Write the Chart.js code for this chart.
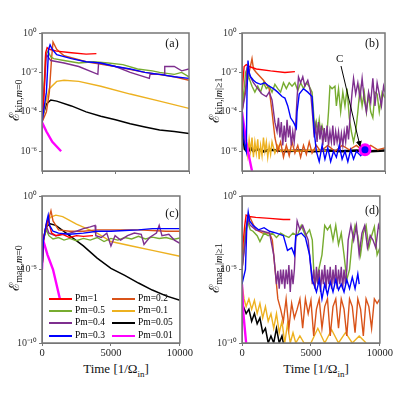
<!DOCTYPE html>
<html><head><meta charset="utf-8">
<script src="https://cdn.jsdelivr.net/npm/chart.js@4"></script>
<style>
body{margin:0;width:400px;height:400px;background:#fff;position:relative;overflow:hidden;font-family:"Liberation Serif",serif}
canvas{position:absolute}
.t{position:absolute;font-family:"Liberation Serif",serif;color:#111;white-space:nowrap}
.yt{transform:translate(-50%,-50%) rotate(-90deg);font-size:13px}
.yt i{font-style:normal;font-size:14px}
.yt sub{font-size:10px}
.xt{transform:translate(-50%,-50%);font-size:13px}
.pl{font-size:12px;transform:translate(-50%,-50%)}
.lg{position:absolute;font-size:9.5px;font-family:"Liberation Serif",serif}
.ln{position:absolute;height:2px}
</style></head><body>
<canvas id="ca" width="192" height="154" style="left:2px;top:25px"></canvas>
<canvas id="cb" width="191" height="154" style="left:202px;top:25px"></canvas>
<canvas id="cc" width="192" height="169" style="left:2px;top:188px"></canvas>
<canvas id="cd" width="192" height="169" style="left:202px;top:188px"></canvas>
<div id="ov"></div>
<script>
const labels = ["Pm=1","Pm=0.2","Pm=0.5","Pm=0.1","Pm=0.4","Pm=0.05","Pm=0.3","Pm=0.01"];
const colors = ["#ff0000","#d95319","#77ac30","#edb120","#7e2f8e","#000000","#0000ff","#ff00ff"];
const xTicks = [0,5000,10000];
const yTicksTop = [1,1e-2,1e-4,1e-6];
const yTicksBot = [1,1e-5,1e-10];

// panel (a): kinetic m=0
const a_pm1=[[0,3e-5],[150,1e-3],[250,0.1],[350,0.18],[500,0.15],[1000,0.12],[2000,0.1],[3000,0.085],[3700,0.09]];
const a_pm02=[[0,3e-5],[300,1e-4],[500,1e-3],[650,0.05],[750,0.35],[1000,0.15],[1500,0.07],[3000,0.035],[5000,0.02],[7000,0.01],[9000,0.006],[10000,0.004]];
const a_pm05=[[0,3e-5],[250,0.08],[400,0.12],[600,0.06],[800,0.05],[1500,0.04],[2500,0.03],[3500,0.035],[4500,0.03],[5500,0.025],[6500,0.015],[7500,0.012],[8000,0.01],[9000,0.008],[9500,0.01],[10000,0.006]];
const a_pm01=[[0,3e-5],[200,2e-4],[500,1.5e-3],[1000,3.5e-3],[1500,4e-3],[2500,3.5e-3],[4000,2e-3],[6000,8e-4],[8000,3.5e-4],[10000,1.5e-4]];
const a_pm04=[[0,3e-5],[300,0.08],[600,0.04],[1500,0.03],[2500,0.02],[3800,0.008],[3850,0.03],[5000,0.02],[6000,0.01],[7300,0.005],[7350,0.008],[8300,0.008],[8350,0.02],[9000,0.02],[9500,0.012],[10000,0.015]];
const a_pm005=[[0,3e-5],[100,8e-5],[300,2.5e-4],[600,4e-4],[1000,3.5e-4],[2000,2e-4],[3000,1e-4],[4000,6e-5],[5000,4e-5],[6000,2.5e-5],[7000,1.7e-5],[8000,1.2e-5],[9000,1e-5],[10000,8e-6]];
const a_pm03=[[0,3e-5],[300,1e-3],[450,0.15],[550,0.25],[700,0.15],[1000,0.08],[2000,0.05],[3000,0.035],[4000,0.03],[5000,0.02],[6000,0.015],[7000,0.01],[8000,0.008],[9000,0.006],[10000,0.005]];
const a_pm001=[[0,3e-5],[300,1e-5],[700,3e-6],[1300,1e-6]];

// panel (b): kinetic |m|>=1
const b_pm1=[[0,1e-3],[150,0.02],[300,0.025],[500,0.02],[1000,0.015],[2000,0.012],[3000,0.01],[3700,0.011]];
const b_pm02=[[0,1e-4],[200,1e-3],[500,1e-2],[700,5e-2],[800,1.5e-2],[1000,1e-2],[1500,4e-3],[1900,1.5e-3],[2100,1e-4],[2300,5e-6],[2500,1e-6],[2700,3e-6],[2900,5e-7],[3100,2e-6],[3300,6e-7],[3500,3e-6],[3700,8e-7],[3900,2e-6],[4100,5e-7],[4300,2e-6],[4500,7e-7],[4700,3e-6],[4900,8e-7],[5200,2e-6],[5500,1e-6],[6000,2e-6],[6500,1e-6],[7000,2e-6],[7500,1.2e-6],[8000,2e-6],[8500,1e-6],[9000,2e-6],[9500,1.2e-6],[10000,1.5e-6]];
const b_pm05=[[0,1e-4],[250,1e-2],[350,1.5e-2],[500,5e-3],[700,2e-3],[900,1e-3],[1100,2e-3],[1300,1e-3],[1500,3e-3],[1700,1.5e-3],[1900,2e-3],[2100,1e-3],[2300,2.5e-3],[2500,1.5e-3],[2700,1e-3],[2900,3e-3],[3100,1.5e-3],[3300,3e-3],[3500,2e-3],[3700,3e-3],[3900,1.2e-3],[4100,3e-3],[4300,1.5e-3],[4500,3e-3],[4700,2e-3],[4900,1e-3],[5000,1e-4],[5100,1e-5],[5200,3e-5],[5300,1e-5],[5400,4e-5],[5500,8e-6],[5600,2e-5],[5800,5e-6],[5950,1e-5],[6050,1e-4],[6150,2e-3],[6300,1.5e-3],[6500,2e-3],[6600,2e-4],[6750,1.5e-3],[6900,1e-4],[7050,1e-3],[7200,2e-4],[7350,1.5e-3],[7500,5e-5],[7650,1e-5],[7800,3e-6],[7950,1e-5],[8100,1e-4],[8250,1.5e-3],[8400,2e-4],[8550,1e-3],[8700,1e-4],[8850,8e-4],[9000,1e-4],[9150,5e-5],[9300,1e-3],[9450,8e-4],[9600,1e-4],[9800,1e-3],[10000,5e-4]];
const b_pm01=[[0,1e-4],[150,5e-6],[300,2e-6],[400,6e-7],[500,4e-6],[600,1e-6],[700,5e-6],[800,5e-7],[900,3e-6],[1000,8e-7],[1100,4e-6],[1200,4e-7],[1300,2e-6],[1400,6e-7],[1500,5e-6],[1600,1e-6],[1700,3e-6],[1800,5e-7],[1900,2e-6],[2000,7e-7],[2100,3e-6],[2300,8e-7],[2500,2e-6],[2700,1e-6],[3000,1.2e-6],[4000,1e-6],[5000,1.2e-6],[6000,1e-6]];
const b_pm04=[[0,1e-4],[250,1e-3],[350,1.5e-2],[500,8e-3],[800,3e-3],[1100,1.5e-3],[1400,8e-4],[1700,6e-4],[1900,1e-3],[2100,4e-4],[2300,3e-5],[2450,1e-5],[2550,5e-5],[2650,5e-6],[2750,3e-5],[2850,2e-6],[2950,2e-5],[3050,3e-6],[3150,4e-5],[3250,5e-6],[3350,2e-5],[3450,2e-6],[3550,1e-5],[3650,3e-6],[3750,2e-5],[3850,5e-4],[3950,6e-3],[4100,3e-3],[4250,6e-3],[4400,2e-3],[4600,4e-3],[4800,1e-3],[4950,5e-5],[5050,5e-6],[5150,2e-5],[5250,3e-6],[5350,3e-5],[5450,4e-6],[5550,2e-5],[5650,2e-6],[5750,1.5e-5],[5850,3e-6],[5950,2e-5],[6050,2e-6],[6150,1e-5],[6250,3e-6],[6350,2e-5],[6450,2e-6],[6550,1e-5],[6650,3e-6],[6750,1e-5],[6850,2e-6],[6950,8e-6],[7050,2e-6],[7150,1e-5],[7250,3e-6],[7350,2e-5],[7450,4e-6],[7550,5e-5],[7700,1e-3],[7800,5e-3],[7950,8e-4],[8100,3e-3],[8250,5e-4],[8400,5e-3],[8550,4e-4],[8700,1e-4],[8850,1e-3],[9000,3e-4],[9150,5e-3],[9300,2e-4],[9450,3e-3],[9600,8e-4],[9750,2e-4],[9900,2e-3],[10000,1e-3]];
const b_pm005=[[0,3e-5],[100,5e-6],[200,1.3e-6],[400,9e-7],[600,1.5e-6],[800,1e-6],[1000,1.3e-6],[1500,1e-6],[2000,1.2e-6],[3000,1e-6],[4000,1.1e-6],[5000,1e-6],[6000,1.1e-6],[7000,1e-6],[8000,1.1e-6],[9000,1e-6],[10000,1.1e-6]];
const b_pm03=[[0,1e-4],[150,3e-6],[300,1e-6],[350,1e-3],[420,4e-2],[500,1e-2],[600,6e-3],[800,4e-3],[1000,3e-3],[1300,2.5e-3],[1600,3e-3],[1900,2e-3],[2200,1.5e-3],[2500,1e-3],[2800,6e-4],[3000,5e-4],[3200,2e-4],[3400,5e-5],[3600,3e-5],[3800,1.5e-5],[3850,1e-4],[4000,8e-4],[4300,1.5e-3],[4600,1e-3],[4900,6e-4],[5050,1e-5],[5200,1e-6],[5400,3e-7],[5600,2e-6],[5800,4e-7],[6000,1.5e-6],[6200,3e-7],[6400,1e-6],[6600,5e-7],[6800,2e-6],[7000,4e-7],[7200,1e-6],[7400,3e-7],[7600,1.2e-6],[7800,4e-7],[8000,1e-6],[8300,6e-7],[8600,1.2e-6]];
const b_pm001=[[0,1e-4],[300,3e-6],[500,5e-7],[700,1e-7]];
const b_markC=[[8600,1.2e-6]];

// panel (c): magnetic m=0
const c_pm1=[[0,1e-5],[100,1e-3],[300,1e-2],[450,3e-2],[550,1e-2],[700,3e-3],[1000,2e-3],[1500,2.5e-3],[2000,1.5e-3],[2500,2e-3],[3000,1.8e-3],[3700,2e-3]];
const c_pm02=[[0,1e-5],[100,1e-3],[500,3e-2],[650,1e-1],[800,2e-2],[1200,5e-3],[2000,4e-3],[3000,4e-3],[4000,5e-3],[5000,5e-3],[6000,5e-3],[7000,5e-3],[8000,4.5e-3],[9000,4e-3],[10000,4e-3]];
const c_pm05=[[0,1e-5],[100,1e-3],[300,5e-3],[500,2e-3],[800,1.2e-3],[1200,1.5e-3],[1600,1e-3],[2000,1.3e-3],[2500,9e-4],[3000,1.3e-3],[3500,1e-3],[4000,1.5e-3],[4500,8e-4],[5000,1.3e-3],[5500,1e-3],[6000,1.5e-3],[6500,1.2e-3],[7000,1.8e-3],[7500,1.2e-3],[8000,1.6e-3],[8500,1.3e-3],[9000,1.5e-3],[9500,1.1e-3],[10000,1.4e-3]];
const c_pm01=[[0,1e-5],[100,1e-3],[300,1e-2],[600,3.5e-2],[1000,5e-2],[1500,4e-2],[2500,1.2e-2],[4000,3e-3],[5000,8e-4],[6500,4e-4],[8000,2e-4],[10000,8e-5]];
const c_pm04=[[0,1e-5],[100,1e-3],[300,1e-2],[500,3e-3],[1000,2e-3],[1500,2.5e-3],[2000,3e-3],[2500,4e-3],[3000,6e-3],[3500,8e-3],[3850,1e-2],[3900,2e-3],[4300,1.5e-3],[4700,3e-3],[5000,4e-4],[5300,2e-3],[5700,1e-3],[6200,2e-3],[6700,3e-3],[7200,2.5e-3],[7400,5e-4],[7800,1.5e-3],[8300,3e-3],[8500,1e-2],[8700,2e-3],[9200,2.5e-3],[9600,1e-3],[10000,6e-4]];
const c_pm005=[[0,1e-5],[100,1e-3],[300,8e-3],[600,1.3e-2],[1000,1e-2],[2000,2e-3],[3000,4e-4],[4000,6e-5],[5000,1.2e-5],[6000,4e-6],[7000,1.2e-6],[8000,4e-7],[9000,1.6e-7],[10000,8e-8]];
const c_pm03=[[0,1e-5],[100,1e-3],[350,2e-2],[450,5e-2],[550,1e-2],[800,4e-3],[1200,3e-3],[2000,2.5e-3],[3000,3e-3],[4000,4e-3],[5000,4e-3],[6000,4.5e-3],[7000,5e-3],[8000,6e-3],[9000,6e-3],[10000,6e-3]];
const c_pm001=[[0,1e-5],[80,1e-3],[400,1e-4],[800,1e-5],[1300,1e-7]];

// panel (d): magnetic |m|>=1
const d_pm1=[[0,1e-4],[200,1e-2],[300,5e-2],[500,4e-2],[1000,3.5e-2],[2000,3e-2],[3000,2.5e-2],[3500,2.5e-2]];
const d_pm02=[[0,1e-5],[300,5e-3],[500,5e-2],[700,2e-2],[1000,5e-3],[1500,3e-3],[2000,3e-3],[2200,1e-3],[2400,1e-5],[2600,1e-7],[2800,2e-8],[3000,3e-9],[3200,1e-7],[3400,1e-9],[3600,5e-8],[3800,5e-9],[4000,2e-8],[4200,1e-7],[4400,1e-9],[4600,1e-7],[4800,1e-8],[5000,8e-8],[5200,3e-10],[5400,2e-8],[5600,1e-7],[5800,1e-9],[6000,3e-8],[6200,1e-7],[6400,3e-10],[6600,3e-8],[6800,1e-7],[7000,1e-9],[7200,1e-7],[7400,2e-8],[7600,3e-10],[7800,1e-7],[8000,3e-8],[8200,5e-10],[8400,1e-7],[8600,2e-8],[8800,3e-10],[9000,1e-7],[9200,3e-8],[9400,1e-9],[9600,1e-7],[9800,5e-8],[10000,1e-7]];
const d_pm05=[[0,1e-5],[250,5e-3],[400,2e-2],[600,5e-3],[800,4e-3],[1100,2e-3],[1300,8e-4],[1600,3e-3],[1900,2e-3],[2200,3e-3],[2500,1.5e-3],[2800,3e-3],[3100,2e-3],[3400,1.5e-3],[3700,3e-3],[4000,2e-3],[4300,1e-2],[4600,2e-3],[4900,5e-3],[5100,1e-3],[5200,1e-5],[5300,1e-6],[5500,5e-6],[5800,1e-4],[6000,1e-2],[6200,5e-3],[6400,1e-2],[6600,1e-3],[6800,1e-2],[7000,5e-4],[7200,3e-3],[7400,1e-4],[7600,2e-6],[7800,1e-5],[8000,1e-3],[8200,1e-2],[8400,2e-3],[8600,1e-4],[8800,3e-3],[9000,1e-2],[9200,3e-4],[9400,2e-3],[9600,8e-3],[9800,1e-4],[10000,3e-4]];
const d_pm01=[[0,1e-6],[150,1e-7],[300,3e-8],[500,1e-7],[700,2e-8],[900,8e-8],[1100,1e-8],[1300,5e-8],[1500,5e-9],[1700,3e-8],[1900,3e-9],[2100,1e-8],[2300,1e-9],[2500,1e-8],[2700,5e-10],[2900,3e-9],[3100,1e-10],[3300,2e-9],[3500,1e-10],[3700,5e-10],[3900,1e-10],[4200,3e-10],[4500,1e-10],[5000,1e-10],[5500,1e-9],[6000,1e-10],[6500,8e-10],[7000,1e-10],[7500,5e-10],[8000,1e-10],[8500,3e-10],[9000,1e-10]];
const d_pm04=[[0,1e-5],[250,1e-3],[400,3e-2],[600,1e-2],[1000,5e-3],[1500,4e-3],[2000,3e-3],[2300,1e-4],[2400,1e-5],[2500,1e-6],[2600,8e-6],[2700,5e-7],[2800,1e-5],[2900,1e-6],[3000,1e-5],[3100,5e-7],[3200,1e-5],[3300,1e-6],[3400,2e-5],[3500,3e-7],[3600,1e-5],[3700,1e-6],[3800,1e-5],[3900,1e-3],[4000,2e-2],[4200,5e-3],[4400,1e-2],[4600,3e-3],[4800,1e-3],[5000,1e-5],[5100,1e-6],[5200,1e-5],[5300,5e-7],[5400,1.5e-5],[5500,1e-6],[5600,1e-5],[5700,3e-7],[5800,1e-5],[5900,1e-6],[6000,2e-5],[6100,5e-7],[6200,1e-5],[6300,1e-6],[6400,1.5e-5],[6500,5e-7],[6600,1e-5],[6700,1e-6],[6800,2e-5],[6900,5e-7],[7000,1e-5],[7100,1e-6],[7200,1.5e-5],[7300,5e-7],[7400,1e-5],[7500,1e-6],[7600,1e-5],[7700,1e-3],[7900,1e-2],[8100,1e-3],[8300,1e-2],[8500,1e-4],[8700,3e-3],[8900,1e-2],[9100,3e-4],[9300,2e-3],[9500,1e-3],[9700,3e-4],[9900,1e-2],[10000,5e-3]];
const d_pm005=[[0,1e-7],[100,3e-8],[300,1e-8],[500,2e-8],[700,3e-9],[900,1e-8],[1100,2e-9],[1300,5e-9],[1500,5e-10],[1700,1e-9],[1900,1e-10],[2100,3e-10],[2300,1e-10],[2500,1e-9],[2700,1e-10],[2900,3e-10],[3000,1e-10]];
const d_pm03=[[0,1e-6],[250,1e-5],[350,1e-2],[450,8e-2],[550,2e-2],[800,1e-2],[1200,5e-3],[1600,7e-3],[2000,4e-3],[2500,3e-3],[3000,2e-3],[3300,2e-4],[3600,3e-4],[3800,1e-4],[3900,2e-3],[4300,3e-3],[4600,1.5e-3],[4900,1e-4],[5100,2e-6],[5400,3e-7],[5600,2e-6],[5800,1e-7],[6000,1e-6],[6200,2e-7],[6400,1.5e-6],[6600,3e-7],[6800,2e-6],[7000,4e-7],[7200,1e-6],[7400,3e-7],[7600,2e-6],[7800,5e-7],[8000,3e-6],[8200,5e-7],[8400,5e-6],[8500,1e-6]];
const d_pm001=[[0,1e-6],[100,1e-8],[300,1e-10]];

const sup={'0':'⁰','1':'¹','2':'²','3':'³','4':'⁴','5':'⁵','6':'⁶','7':'⁷','8':'⁸','9':'⁹','-':'⁻'};
function fmt(v){const e=Math.round(Math.log10(v));return '10'+String(e).split('').map(c=>sup[c]).join('');}

const frame={id:'frame',afterDraw(c){const a=c.chartArea,x=c.ctx;x.save();x.strokeStyle='#777';x.lineWidth=1.5;x.strokeRect(a.left,a.top,a.right-a.left,a.bottom-a.top);x.restore();}};

function make(id,series,ymin,yticks,showX,thickBlack,extra){
  const ds=series.map((s,i)=>({data:s.map(p=>({x:p[0],y:p[1]})),borderColor:colors[i],borderWidth:i==7?2.4:(i==5?(thickBlack?2.6:1.5):1.4),pointRadius:0,tension:0,order:[1,4,3,6,2,7,0,5][i]}));
  if(extra) ds.push(extra);
  new Chart(document.getElementById(id),{type:'line',data:{datasets:ds},plugins:[frame],
    options:{responsive:false,animation:false,events:[],
      layout:{padding:{top:5,right:5,left:0,bottom:0}},
      plugins:{legend:{display:false},tooltip:{enabled:false}},
      scales:{
        x:{type:'linear',min:0,max:10000,afterBuildTicks(s){s.ticks=xTicks.map(v=>({value:v}));},
           afterFit(s){s.height=showX?14:4;},
           grid:{display:true,drawOnChartArea:false,tickLength:3,color:'#777'},border:{color:'#777'},
           ticks:{display:showX,callback:v=>String(v),maxRotation:0,padding:1,color:'#222',font:{family:'Liberation Serif',size:10.5}}},
        y:{type:'logarithmic',min:ymin,max:1,afterBuildTicks(s){s.ticks=yticks.map(v=>({value:v}));},
           afterFit(s){s.width=40;},
           grid:{display:true,drawOnChartArea:false,tickLength:3,color:'#777'},border:{color:'#777'},
           ticks:{callback:v=>fmt(v),padding:2,color:'#333',font:{family:'Liberation Serif',size:10}}}
      }}});
}
make('ca',[a_pm1,a_pm02,a_pm05,a_pm01,a_pm04,a_pm005,a_pm03,a_pm001],1e-7,yTicksTop,false,false);
make('cb',[b_pm1,b_pm02,b_pm05,b_pm01,b_pm04,b_pm005,b_pm03,b_pm001],1e-7,yTicksTop,false,true,
  {data:b_markC.map(p=>({x:p[0],y:p[1]})),showLine:false,pointRadius:5,pointBorderWidth:3,pointBorderColor:'#ff00ff',pointBackgroundColor:'#0000ff',borderColor:'#ff00ff',order:-1});
make('cc',[c_pm1,c_pm02,c_pm05,c_pm01,c_pm04,c_pm005,c_pm03,c_pm001],1e-10,yTicksBot,true,false);
make('cd',[d_pm1,d_pm02,d_pm05,d_pm01,d_pm04,d_pm005,d_pm03,d_pm001],1e-10,yTicksBot,true,false);

const ov=document.getElementById('ov');
let h='';
h+='<div class="t yt" style="left:14px;top:100px"><i>ℰ</i><sub>kin,<i style="font-style:italic;font-size:10px">m</i>=0</sub></div>';
h+='<div class="t yt" style="left:214px;top:100px"><i>ℰ</i><sub>kin,|<i style="font-style:italic;font-size:10px">m</i>|≥1</sub></div>';
h+='<div class="t yt" style="left:14px;top:268px"><i>ℰ</i><sub>mag,<i style="font-style:italic;font-size:10px">m</i>=0</sub></div>';
h+='<div class="t yt" style="left:214px;top:268px"><i>ℰ</i><sub>mag,|<i style="font-style:italic;font-size:10px">m</i>|≥1</sub></div>';
h+='<div class="t xt" style="left:116px;top:370px">Time [1/Ω<sub style="font-size:9px">in</sub>]</div>';
h+='<div class="t xt" style="left:316px;top:370px">Time [1/Ω<sub style="font-size:9px">in</sub>]</div>';
h+='<div class="t pl" style="left:172px;top:43px">(a)</div>';
h+='<div class="t pl" style="left:372px;top:43px">(b)</div>';
h+='<div class="t pl" style="left:172px;top:213px">(c)</div>';
h+='<div class="t pl" style="left:372px;top:210px">(d)</div>';
h+='<div class="t" style="left:336px;top:52px;font-size:11px">C</div>';
const rows=[299,311,323,336];
labels.forEach((l,i)=>{const col=i%2,row=Math.floor(i/2);const lx=col?112:49,tx=col?138:75;
  h+=`<div class="ln" style="left:${lx}px;top:${rows[row]-1}px;width:23px;background:${colors[i]}"></div>`;
  h+=`<div class="lg" style="left:${tx}px;top:${rows[row]-6}px">${l}</div>`;});
h+='<svg style="position:absolute;left:0;top:0" width="400" height="400"><defs><marker id="ar" markerWidth="6" markerHeight="6" refX="5" refY="3" orient="auto"><path d="M0,0 L6,3 L0,6 z" fill="#000"/></marker></defs><line x1="341" y1="66" x2="360" y2="146" stroke="#000" stroke-width="1" marker-end="url(#ar)"/></svg>';
ov.innerHTML=h;
</script></body></html>
